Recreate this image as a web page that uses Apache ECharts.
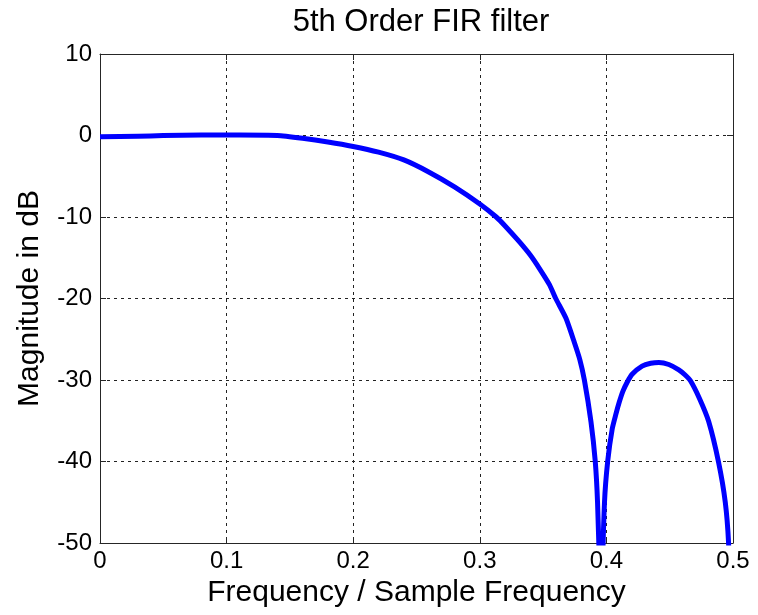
<!DOCTYPE html>
<html>
<head>
<meta charset="utf-8">
<script src="https://cdn.jsdelivr.net/npm/echarts@6/dist/echarts.min.js"></script>
<style>html,body{margin:0;padding:0;background:#fff;}#c{width:758px;height:615px;}</style>
</head>
<body>
<div id="c"></div>
<script>
const freq = [0, 0.03, 0.05, 0.08, 0.11, 0.14, 0.16, 0.18, 0.2, 0.22, 0.24, 0.26, 0.28, 0.3, 0.313, 0.32, 0.331, 0.34, 0.347, 0.355, 0.36, 0.368, 0.3747, 0.3790, 0.3826, 0.3878, 0.3912, 0.393, 0.3948, 0.3958, 0.3968, 0.3985, 0.401, 0.4046, 0.4075, 0.41, 0.413, 0.4163, 0.4203, 0.4282, 0.435, 0.4415, 0.4493, 0.4572, 0.462, 0.4664, 0.4736, 0.4808, 0.4886, 0.4939, 0.4965, 0.5];
const magnitudeDb = [-0.15, -0.1, 0, 0.05, 0.05, 0, -0.35, -0.8, -1.35, -2.05, -3.0, -4.5, -6.3, -8.4, -10, -11.1, -13.0, -14.7, -16.3, -18.3, -20, -22.4, -25.4, -27.5, -30, -35.1, -40, -45, -55, -75, -55, -45, -40, -36, -34.2, -32.8, -31.4, -30.3, -29.3, -28.3, -27.95, -27.85, -28.1, -28.75, -29.35, -30.1, -32.3, -35.1, -40.1, -45, -50, -65];
const xTicks = [0, 0.1, 0.2, 0.3, 0.4, 0.5];
const yTicks = [10, 0, -10, -20, -30, -40, -50];

const FONT = "'Liberation Sans', Arial, Helvetica, sans-serif";
const chart = echarts.init(document.getElementById('c'), null, {renderer: 'canvas'});
const lineCol = '#262626';
const gridStyle = {show: true, lineStyle: {color: '#222', width: 1, type: [3, 4]}};
const data = freq.map((f, i) => [f, magnitudeDb[i]]);

chart.setOption({
  animation: false,
  backgroundColor: '#fff',
  title: {
    text: '5th Order FIR filter',
    left: 416, textAlign: 'center',
    top: 2,
    textStyle: {fontFamily: FONT, fontSize: 31, fontWeight: 'normal', color: '#000'}
  },
  grid: {left: 100, right: 25, top: 54, bottom: 72, containLabel: false},
  xAxis: [{
    type: 'value', min: xTicks[0], max: xTicks[xTicks.length - 1], interval: 0.1,
    position: 'bottom',
    name: 'Frequency / Sample Frequency', nameLocation: 'middle', nameGap: 29,
    nameTextStyle: {fontFamily: FONT, fontSize: 30, color: '#000'},
    axisLine: {show: true, onZero: false, lineStyle: {color: lineCol, width: 1}},
    axisTick: {show: true, inside: true, length: 6, lineStyle: {color: lineCol}},
    axisLabel: {fontFamily: FONT, fontSize: 24, color: '#000', margin: 6},
    splitLine: gridStyle
  }, {
    type: 'value', min: xTicks[0], max: xTicks[xTicks.length - 1], interval: 0.1,
    position: 'top',
    axisLine: {show: true, onZero: false, lineStyle: {color: lineCol, width: 1}},
    axisTick: {show: true, inside: true, length: 6, lineStyle: {color: lineCol}},
    axisLabel: {show: false},
    splitLine: {show: false}
  }],
  yAxis: [{
    type: 'value', min: yTicks[yTicks.length - 1], max: yTicks[0], interval: 10,
    position: 'left',
    name: 'Magnitude in dB', nameLocation: 'middle', nameGap: 55,
    nameTextStyle: {fontFamily: FONT, fontSize: 30, color: '#000'},
    axisLine: {show: true, onZero: false, lineStyle: {color: lineCol, width: 1}},
    axisTick: {show: true, inside: true, length: 6, lineStyle: {color: lineCol}},
    axisLabel: {fontFamily: FONT, fontSize: 24, color: '#000', margin: 8},
    splitLine: gridStyle
  }, {
    type: 'value', min: yTicks[yTicks.length - 1], max: yTicks[0], interval: 10,
    position: 'right',
    axisLine: {show: true, onZero: false, lineStyle: {color: lineCol, width: 1}},
    axisTick: {show: true, inside: true, length: 6, lineStyle: {color: lineCol}},
    axisLabel: {show: false},
    splitLine: {show: false}
  }],
  series: [{
    type: 'line',
    xAxisIndex: 0, yAxisIndex: 0,
    data: data,
    showSymbol: false,
    smooth: 0.2,
    clip: true,
    lineStyle: {color: '#0000ff', width: 5, join: 'round'},
    z: 5
  }]
});
</script>
</body>
</html>
